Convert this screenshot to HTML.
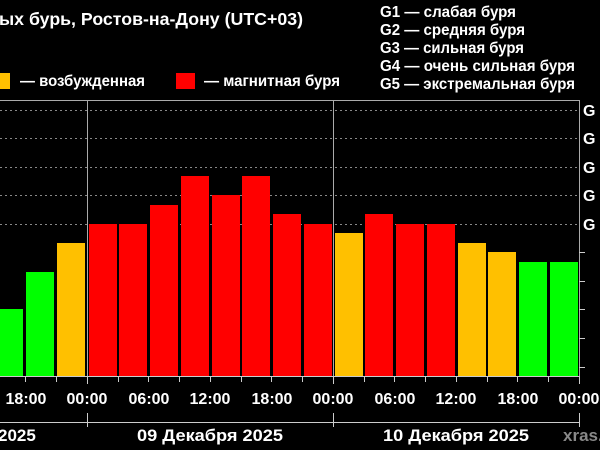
<!DOCTYPE html>
<html><head><meta charset="utf-8"><style>
html,body{margin:0;padding:0;background:#000;width:600px;height:450px;overflow:hidden}
svg{display:block}
text{font-family:"Liberation Sans",sans-serif;font-weight:bold;fill:#fff}
</style></head><body>
<svg width="600" height="450" viewBox="0 0 600 450">
<text x="-1" y="25" font-size="17.5" textLength="304" lengthAdjust="spacingAndGlyphs">ых бурь, Ростов-на-Дону (UTC+03)</text>
<rect x="0" y="73" width="10" height="16" fill="#ffc000"/>
<text x="20" y="86" font-size="15.5" textLength="125" lengthAdjust="spacingAndGlyphs">— возбужденная</text>
<rect x="176" y="73" width="19" height="16" fill="#ff0000"/>
<text x="204" y="86" font-size="15.5" textLength="136" lengthAdjust="spacingAndGlyphs">— магнитная буря</text>
<g font-size="15.5">
<text x="380" y="17" textLength="136" lengthAdjust="spacingAndGlyphs">G1 — слабая буря</text>
<text x="380" y="35" textLength="145" lengthAdjust="spacingAndGlyphs">G2 — средняя буря</text>
<text x="380" y="53" textLength="144" lengthAdjust="spacingAndGlyphs">G3 — сильная буря</text>
<text x="380" y="71" textLength="195" lengthAdjust="spacingAndGlyphs">G4 — очень сильная буря</text>
<text x="380" y="89" textLength="195" lengthAdjust="spacingAndGlyphs">G5 — экстремальная буря</text>
</g>
<line x1="0" y1="100.5" x2="580" y2="100.5" stroke="#aaa"/>
<line x1="579.5" y1="100" x2="579.5" y2="377" stroke="#aaa"/>
<line x1="87.5" y1="100" x2="87.5" y2="377" stroke="#aaa"/>
<line x1="333.5" y1="100" x2="333.5" y2="377" stroke="#aaa"/>
<g stroke="#888" stroke-dasharray="2,3">
<line x1="0" y1="110.5" x2="579" y2="110.5"/>
<line x1="0" y1="138.5" x2="579" y2="138.5"/>
<line x1="0" y1="167.5" x2="579" y2="167.5"/>
<line x1="0" y1="195.5" x2="579" y2="195.5"/>
<line x1="0" y1="224.5" x2="579" y2="224.5"/>
</g>
<g font-size="16">
<text x="583" y="116">G</text><text x="583" y="144">G</text><text x="583" y="173">G</text><text x="583" y="201">G</text><text x="583" y="230">G</text>
</g>
<g stroke="#ccc">
<line x1="579" y1="252.5" x2="585" y2="252.5"/><line x1="579" y1="281.5" x2="585" y2="281.5"/><line x1="579" y1="309.5" x2="585" y2="309.5"/><line x1="579" y1="338.5" x2="585" y2="338.5"/><line x1="579" y1="367.5" x2="585" y2="367.5"/>
</g>
<g>
<rect x="-5" y="309" width="28" height="67" fill="#00ff00"/>
<rect x="26" y="272" width="28" height="104" fill="#00ff00"/>
<rect x="57" y="243" width="28" height="133" fill="#ffc000"/>
<rect x="89" y="224" width="28" height="152" fill="#ff0000"/>
<rect x="119" y="224" width="28" height="152" fill="#ff0000"/>
<rect x="150" y="205" width="28" height="171" fill="#ff0000"/>
<rect x="181" y="176" width="28" height="200" fill="#ff0000"/>
<rect x="212" y="195" width="28" height="181" fill="#ff0000"/>
<rect x="242" y="176" width="28" height="200" fill="#ff0000"/>
<rect x="273" y="214" width="28" height="162" fill="#ff0000"/>
<rect x="304" y="224" width="28" height="152" fill="#ff0000"/>
<rect x="335" y="233" width="28" height="143" fill="#ffc000"/>
<rect x="365" y="214" width="28" height="162" fill="#ff0000"/>
<rect x="396" y="224" width="28" height="152" fill="#ff0000"/>
<rect x="427" y="224" width="28" height="152" fill="#ff0000"/>
<rect x="458" y="243" width="28" height="133" fill="#ffc000"/>
<rect x="488" y="252" width="28" height="124" fill="#ffc000"/>
<rect x="519" y="262" width="28" height="114" fill="#00ff00"/>
<rect x="550" y="262" width="28" height="114" fill="#00ff00"/>
</g>
<line x1="0" y1="376.5" x2="580" y2="376.5" stroke="#ccc"/>
<g stroke="#ccc">
<line x1="25.5" y1="376" x2="25.5" y2="382"/><line x1="56.5" y1="376" x2="56.5" y2="382"/><line x1="87.5" y1="376" x2="87.5" y2="384"/>
<line x1="118.5" y1="376" x2="118.5" y2="382"/><line x1="148.5" y1="376" x2="148.5" y2="382"/><line x1="179.5" y1="376" x2="179.5" y2="382"/><line x1="210.5" y1="376" x2="210.5" y2="382"/><line x1="241.5" y1="376" x2="241.5" y2="382"/><line x1="271.5" y1="376" x2="271.5" y2="382"/><line x1="302.5" y1="376" x2="302.5" y2="382"/><line x1="333.5" y1="376" x2="333.5" y2="384"/>
<line x1="364.5" y1="376" x2="364.5" y2="382"/><line x1="394.5" y1="376" x2="394.5" y2="382"/><line x1="425.5" y1="376" x2="425.5" y2="382"/><line x1="456.5" y1="376" x2="456.5" y2="382"/><line x1="487.5" y1="376" x2="487.5" y2="382"/><line x1="517.5" y1="376" x2="517.5" y2="382"/><line x1="548.5" y1="376" x2="548.5" y2="382"/><line x1="579.5" y1="376" x2="579.5" y2="384"/>
<line x1="0" y1="422.5" x2="580" y2="422.5"/>
<line x1="87.5" y1="413" x2="87.5" y2="427"/><line x1="333.5" y1="413" x2="333.5" y2="427"/><line x1="579.5" y1="413" x2="579.5" y2="427"/>
</g>
<g font-size="16" text-anchor="middle">
<text x="26" y="404">18:00</text><text x="87" y="404">00:00</text><text x="149" y="404">06:00</text><text x="210" y="404">12:00</text><text x="272" y="404">18:00</text><text x="333" y="404">00:00</text><text x="395" y="404">06:00</text><text x="456" y="404">12:00</text><text x="518" y="404">18:00</text><text x="579" y="404">00:00</text>
</g>
<g font-size="17">
<text x="-2" y="441">2025</text>
<text x="210" y="441" text-anchor="middle" textLength="146" lengthAdjust="spacingAndGlyphs">09 Декабря 2025</text>
<text x="456" y="441" text-anchor="middle" textLength="146" lengthAdjust="spacingAndGlyphs">10 Декабря 2025</text>
<text x="563" y="441" style="fill:#888">xras.</text>
</g>
</svg>
</body></html>
